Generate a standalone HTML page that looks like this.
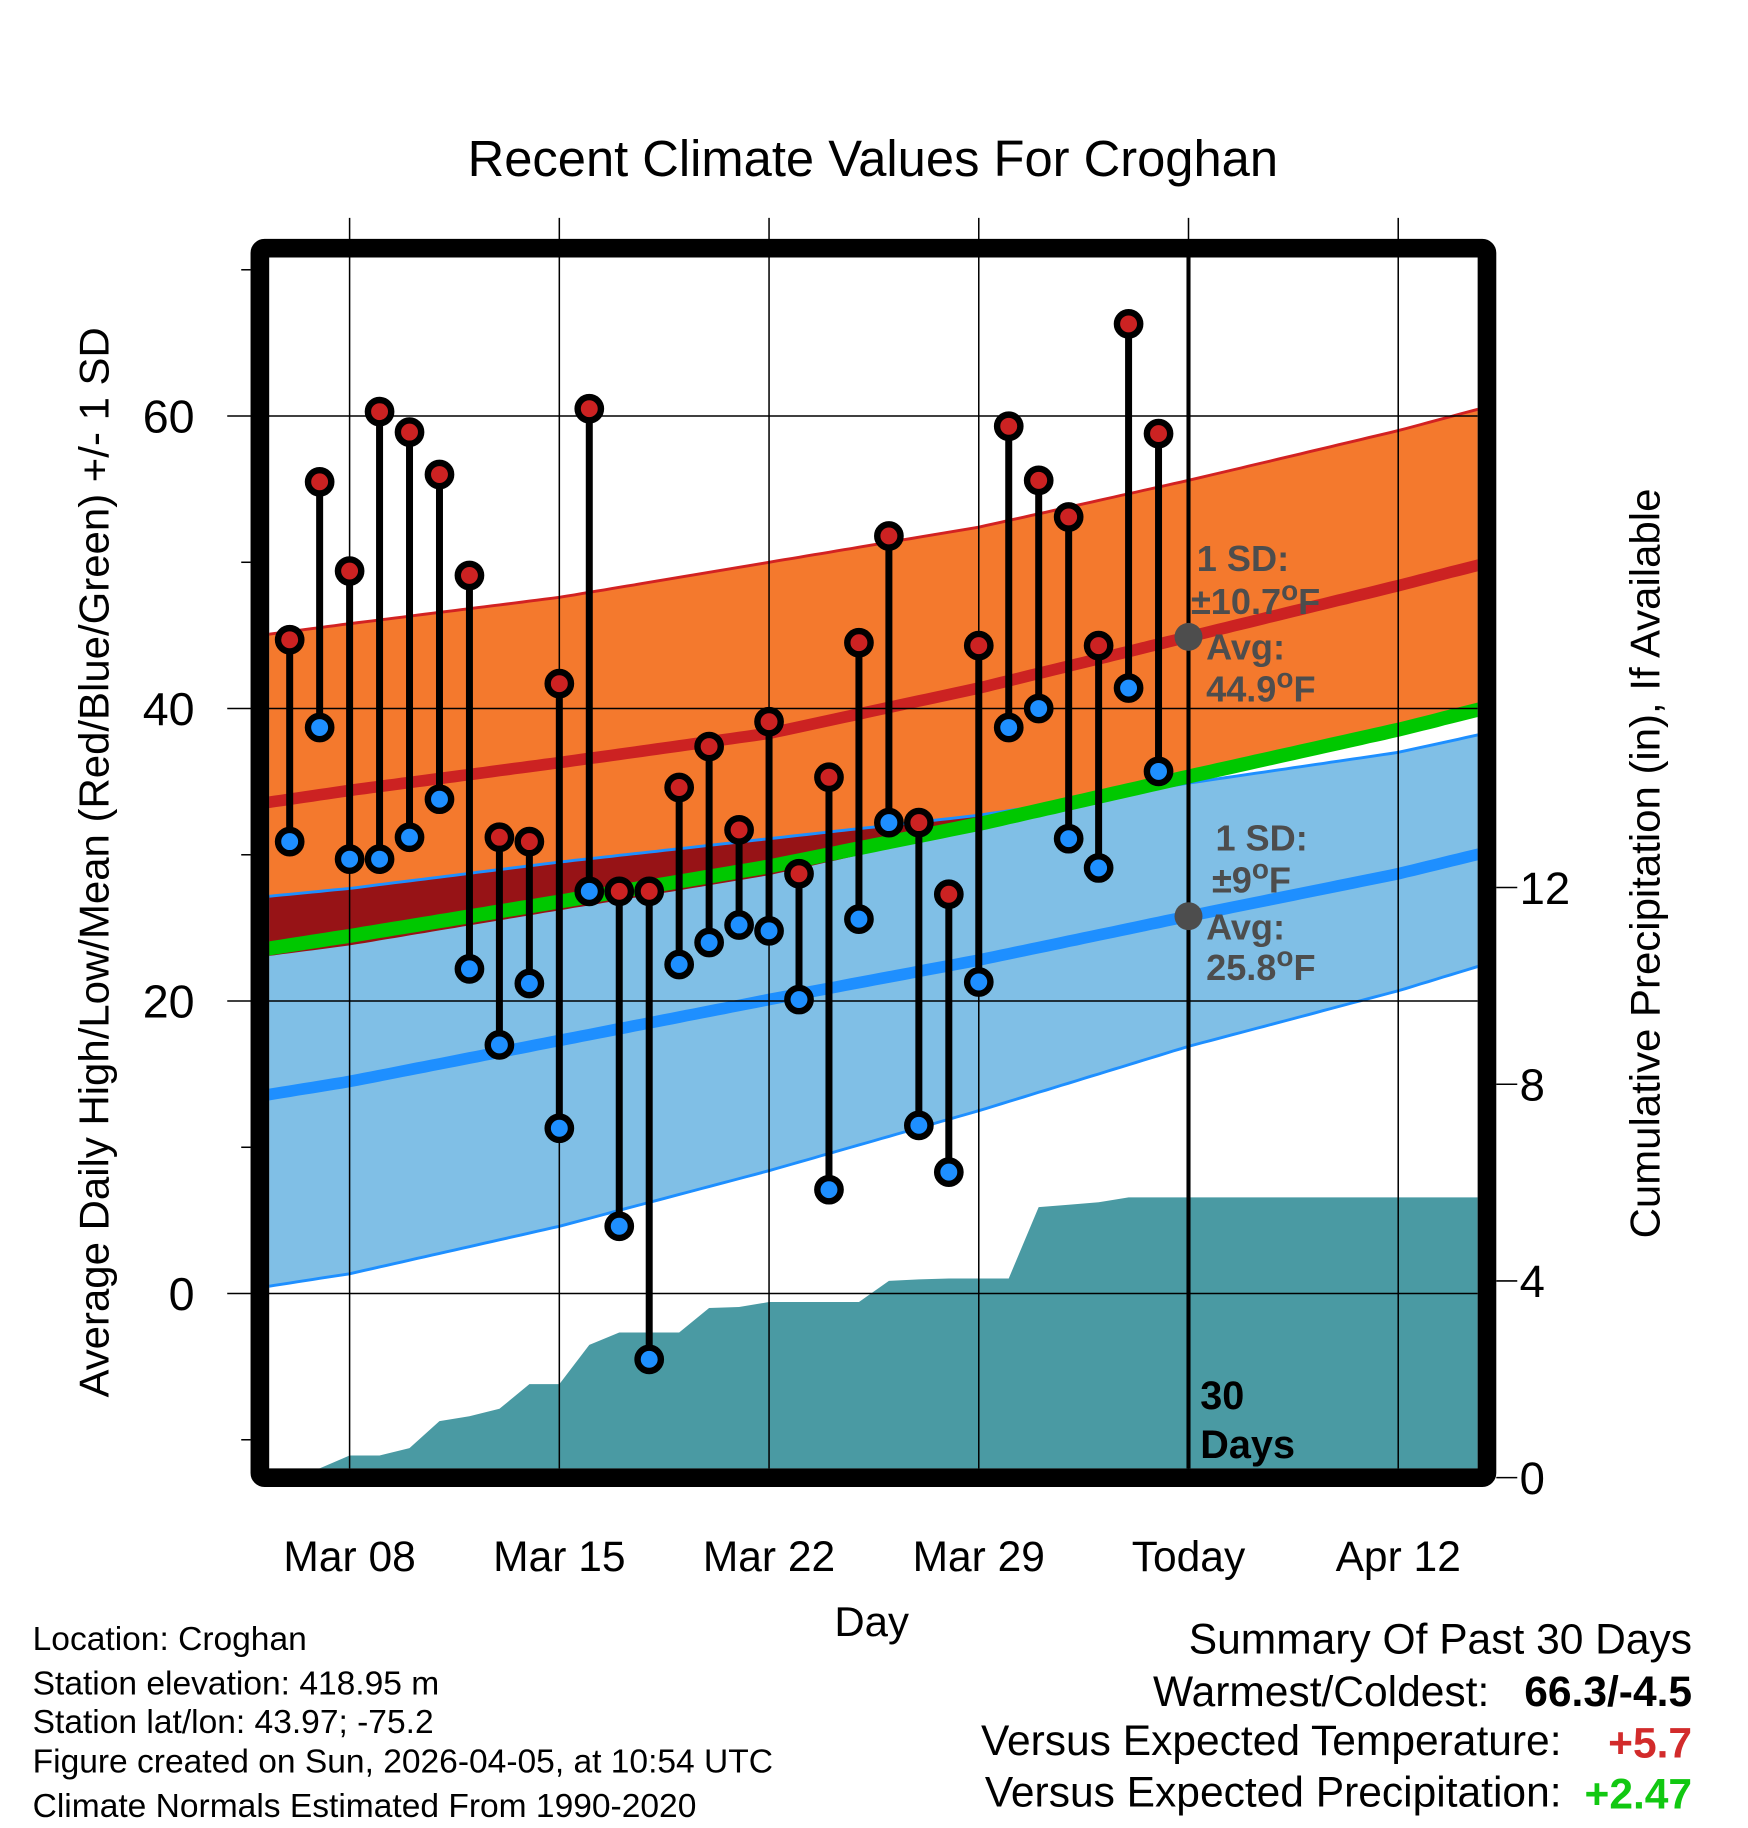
<!DOCTYPE html>
<html><head><meta charset="utf-8"><style>
html,body{margin:0;padding:0;background:#fff;}
svg{display:block;font-family:"Liberation Sans",Arial,sans-serif;}
</style></head><body>
<svg id="chart" width="1748" height="1828" viewBox="0 0 1500 1568.65" preserveAspectRatio="none" xmlns="http://www.w3.org/2000/svg">
<defs><clipPath id="plotclip"><rect x="231" y="221" width="1037" height="1039"/></clipPath></defs>
<g id="bands" clip-path="url(#plotclip)"></g>
<g id="grid"></g>
<g id="marks" clip-path="url(#plotclip)"></g>
<g id="axes"></g>
<text x="749" y="151" font-size="43.5" text-anchor="middle">Recent Climate Values For Croghan</text>
<text transform="translate(93,740) rotate(-90)" font-size="36" text-anchor="middle">Average Daily High/Low/Mean (Red/Blue/Green) +/- 1 SD</text>
<text transform="translate(1424,741) rotate(-90)" font-size="36" text-anchor="middle">Cumulative Precipitation (in), If Available</text>
<text x="748" y="1404" font-size="36" text-anchor="middle">Day</text>
<g font-size="28.8">
<text x="28" y="1416">Location: Croghan</text>
<text x="28" y="1454">Station elevation: 418.95 m</text>
<text x="28" y="1487">Station lat/lon: 43.97; -75.2</text>
<text x="28" y="1521">Figure created on Sun, 2026-04-05, at 10:54 UTC</text>
<text x="28" y="1559">Climate Normals Estimated From 1990-2020</text>
</g>
<g font-size="36.5">
<text x="1452" y="1419" text-anchor="end">Summary Of Past 30 Days</text>
<text x="1278" y="1464" text-anchor="end">Warmest/Coldest:</text>
<text x="1452" y="1464" text-anchor="end" font-weight="bold">66.3/-4.5</text>
<text x="1340" y="1506" text-anchor="end">Versus Expected Temperature:</text>
<text x="1452" y="1508" text-anchor="end" font-weight="bold" fill="#d22b2b">+5.7</text>
<text x="1340" y="1550" text-anchor="end">Versus Expected Precipitation:</text>
<text x="1452" y="1552" text-anchor="end" font-weight="bold" fill="#11c811">+2.47</text>
</g>
</svg>
<script>
// Observed data (day index: 0 = Mar 5)
const obsDays = [1,2,3,4,5,6,7,8,9,10,11,12,13,14,15,16,17,18,19,20,21,22,23,24,25,26,27,28,29,30];
const highs = [44.7,55.5,49.4,60.3,58.9,56.0,49.1,31.2,30.9,41.7,60.5,27.5,27.5,34.6,37.4,31.7,39.1,28.7,35.3,44.5,51.8,32.2,27.3,44.3,59.3,55.6,53.1,44.3,66.3,58.8];
const lows = [30.9,38.7,29.7,29.7,31.2,33.8,22.2,17.0,21.2,11.3,27.5,4.6,-4.5,22.5,24.0,25.2,24.8,20.1,7.1,25.6,32.2,11.5,8.3,21.3,38.7,40.0,31.1,29.1,41.4,35.7];
const precip = [0,0.19,0.45,0.45,0.6,1.15,1.25,1.4,1.9,1.9,2.7,2.95,2.95,2.95,3.45,3.47,3.57,3.57,3.57,3.57,4.0,4.03,4.05,4.05,4.05,5.5,5.55,5.6,5.7,5.7];
// Normals
const normDays = [0,3,10,17,24,31,38,42];
const normHigh = [33.5,34.4,36.3,38.3,41.4,44.9,48.4,50.5];
const normHighUpper = [45.0,45.8,47.6,50.0,52.4,55.6,59.0,61.2];
const normHighLower = [23.0,23.8,26.2,28.6,31.8,35.2,38.8,40.7];
const normLow = [13.5,14.5,17.3,20.1,22.8,25.8,28.7,30.7];
const normLowUpper = [27.1,27.7,29.5,31.1,32.7,34.9,37.0,38.8];
const normLowLower = [0.4,1.35,4.6,8.4,12.5,16.9,20.7,23.2];
const yTicks = [0,20,40,60];
const yMinor = [-10,10,30,50,70];
const pTicks = [0,4,8,12];
const xTickDays = [3,10,17,24,31,38];
const xTickLabels = ["Mar 08","Mar 15","Mar 22","Mar 29","Today","Apr 12"];
const todayDay = 31;

const NS="http://www.w3.org/2000/svg";
const xS = d => 300 + (d-3)*25.71;
const yS = v => 1110 - v*12.55;
const pS = p => 1268 - p*42.2;
function el(tag, attrs, parent){const e=document.createElementNS(NS,tag);for(const k in attrs)e.setAttribute(k,attrs[k]);parent.appendChild(e);return e;}
function interp(days, vals, d){
  for(let i=0;i<days.length-1;i++){ if(d<=days[i+1]){const t=(d-days[i])/(days[i+1]-days[i]);return vals[i]+t*(vals[i+1]-vals[i]);} }
  return vals[vals.length-1];
}
const samp=[]; for(let d=0; d<=42; d+=0.25) samp.push(d);
const lineStr = arr => samp.map(d=>xS(d).toFixed(1)+','+yS(interp(normDays,arr,d)).toFixed(1)).join(' ');
const bandStr = (a,b) => samp.map(d=>xS(d).toFixed(1)+','+yS(interp(normDays,a,d)).toFixed(1)).concat(samp.slice().reverse().map(d=>xS(d).toFixed(1)+','+yS(interp(normDays,b,d)).toFixed(1))).join(' ');
const bands=document.getElementById('bands');
let e;
e=el('polygon',{points:bandStr(normHighUpper,normHighLower),fill:'#f4792d'},bands);


e=el('polygon',{points:bandStr(normLowUpper,normLowLower),fill:'#80bfe6'},bands);


const ov = samp.map(d=>{const lo=interp(normDays,normHighLower,d), hi=interp(normDays,normLowUpper,d);return [d,lo,Math.max(lo,hi)];});
const ovStr = ov.map(o=>xS(o[0]).toFixed(1)+','+yS(o[1]).toFixed(1)).concat(ov.slice().reverse().map(o=>xS(o[0]).toFixed(1)+','+yS(o[2]).toFixed(1))).join(' ');
e=el('polygon',{points:ovStr,fill:'#971316'},bands);


e=el('polyline',{points:lineStr(normHighUpper),fill:'none',stroke:'#d22222','stroke-width':2.5},bands);


e=el('polyline',{points:lineStr(normLowUpper),fill:'none',stroke:'#1e8fff','stroke-width':2.5},bands);


e=el('polyline',{points:lineStr(normLowLower),fill:'none',stroke:'#1e8fff','stroke-width':2.5},bands);


const meanArr = normHigh.map((h,i)=>(h+normLow[i])/2);
e=el('polyline',{points:lineStr(meanArr),fill:'none',stroke:'#00c800','stroke-width':12},bands);


e=el('polyline',{points:lineStr(normHigh),fill:'none',stroke:'#cc2222','stroke-width':10},bands);


e=el('polyline',{points:lineStr(normLow),fill:'none',stroke:'#1e8fff','stroke-width':10},bands);


let pp = [[xS(obsDays[0]),1270]];
obsDays.forEach((d,i)=>pp.push([xS(d),pS(precip[i])]));
pp.push([1270,pS(precip[precip.length-1])]); pp.push([1270,1270]);
e=el('polygon',{points:pp.map(p=>p[0].toFixed(1)+','+p[1].toFixed(1)).join(' '),fill:'#4a9aa3'},bands);



const grid=document.getElementById('grid');
xTickDays.forEach(d=>{
  e=el('line',{x1:xS(d),x2:xS(d),y1:187,y2:1260,stroke:'#000','stroke-width':1.3},grid);
  
  
});
yTicks.forEach(v=>{
  e=el('line',{x1:195,x2:1268,y1:yS(v),y2:yS(v),stroke:'#000','stroke-width':1.3},grid);
  
  
});

const marks=document.getElementById('marks');
obsDays.forEach((d,i)=>{
  const x=xS(d);
  e=el('line',{x1:x,x2:x,y1:yS(highs[i]),y2:yS(lows[i]),stroke:'#000','stroke-width':6},marks);
  
  
});
obsDays.forEach((d,i)=>{
  const x=xS(d);
  e=el('circle',{cx:x,cy:yS(highs[i]),r:10,fill:'#cc2222',stroke:'#000','stroke-width':5.5},marks);
  
  
  e=el('circle',{cx:x,cy:yS(lows[i]),r:10,fill:'#1e8fff',stroke:'#000','stroke-width':5.5},marks);
  
  
});
const tx=xS(todayDay);
e=el('line',{x1:tx,x2:tx,y1:221,y2:1262,stroke:'#000','stroke-width':3.5},marks);


e=el('circle',{cx:tx,cy:yS(interp(normDays,normHigh,todayDay)),r:12,fill:'#4d4d4d'},marks);


e=el('circle',{cx:tx,cy:yS(interp(normDays,normLow,todayDay)),r:12,fill:'#4d4d4d'},marks);


const ann=[["1 SD:","",1027,490],["\u00b110.7","F",1022,527],["Avg:","",1035,566],["44.9","F",1035,602],["1 SD:","",1043,730],["\u00b19","F",1040,766],["Avg:","",1035,806],["25.8","F",1035,841]];
ann.forEach(a=>{
  e=el('text',{x:a[2],y:a[3],'font-size':31,'font-weight':'bold',fill:'#4d4d4d'},marks);
  
  
  e.appendChild(document.createTextNode(a[0]));
  if(a[1]){
    const s=el('tspan',{dy:-12,'font-size':24},e); s.textContent='o';
    const f=el('tspan',{dy:12},e); f.textContent=a[1];
  }
});
e=el('text',{x:1030,y:1209,'font-size':34,'font-weight':'bold',fill:'#000'},marks);
e.textContent='30';


e=el('text',{x:1030,y:1251,'font-size':34,'font-weight':'bold',fill:'#000'},marks);
e.textContent='Days';



const axes=document.getElementById('axes');
e=el('rect',{x:223,y:213,width:1053,height:1055,fill:'none',stroke:'#000','stroke-width':16,rx:4},axes);


yTicks.forEach(v=>{
  e=el('text',{x:167,y:yS(v)+14,'font-size':40,'text-anchor':'end'},axes);
  e.textContent=String(v);
  
  
});
yMinor.forEach(v=>{
  e=el('line',{x1:207,x2:215,y1:yS(v),y2:yS(v),stroke:'#000','stroke-width':1.3},axes);
  
  
});
pTicks.forEach(p=>{
  e=el('line',{x1:1284,x2:1302,y1:pS(p),y2:pS(p),stroke:'#000','stroke-width':1.3},axes);
  
  
  e=el('text',{x:1304,y:pS(p)+14,'font-size':39},axes);
  e.textContent=String(p);
  
  
});
xTickDays.forEach((d,i)=>{
  e=el('text',{x:xS(d),y:1348,'font-size':36.5,'text-anchor':'middle'},axes);
  e.textContent=xTickLabels[i];
  
  
});
</script>
</body></html>
